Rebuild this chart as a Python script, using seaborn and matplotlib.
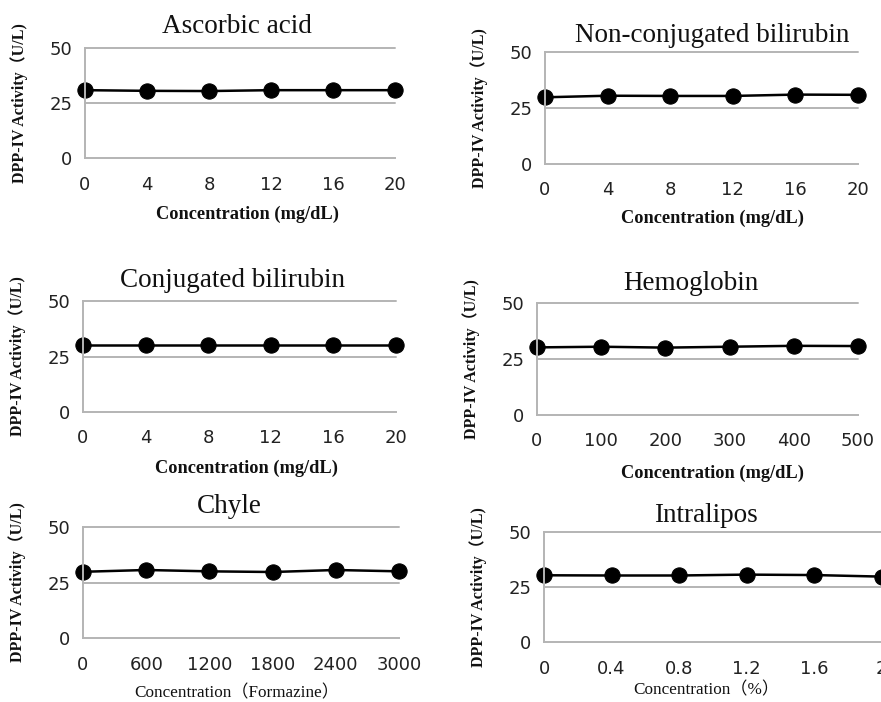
import matplotlib
matplotlib.use("Agg")
import matplotlib.pyplot as plt
import seaborn as sns
import pandas as pd

sns.set_style("white")
plt.rcParams['font.family'] = ['DejaVu Sans']

# ---- data ----
titles = ["Ascorbic acid", "Non-conjugated bilirubin", "Conjugated bilirubin",
          "Hemoglobin", "Chyle", "Intralipos"]
x_ascorbic = [0, 4, 8, 12, 16, 20]
y_ascorbic = [30.8, 30.5, 30.4, 30.8, 30.8, 30.8]
x_nonconj = [0, 4, 8, 12, 16, 20]
y_nonconj = [29.7, 30.4, 30.3, 30.3, 30.9, 30.8]
x_conj = [0, 4, 8, 12, 16, 20]
y_conj = [30.0, 30.0, 30.0, 30.0, 30.0, 30.0]
x_hemo = [0, 100, 200, 300, 400, 500]
y_hemo = [30.1, 30.4, 30.0, 30.4, 30.8, 30.7]
x_chyle = [0, 600, 1200, 1800, 2400, 3000]
y_chyle = [29.8, 30.6, 30.0, 29.7, 30.6, 30.0]
x_intra = [0, 0.4, 0.8, 1.2, 1.6, 2.0]
y_intra = [30.3, 30.2, 30.2, 30.6, 30.4, 29.7]
xtick_labels = [["0", "4", "8", "12", "16", "20"],
                ["0", "4", "8", "12", "16", "20"],
                ["0", "4", "8", "12", "16", "20"],
                ["0", "100", "200", "300", "400", "500"],
                ["0", "600", "1200", "1800", "2400", "3000"],
                ["0", "0.4", "0.8", "1.2", "1.6", "2"]]
yticks = [0, 25, 50]
ylabel = "DPP-IV Activity（U/L)"
xlabels = ["Concentration (mg/dL)", "Concentration (mg/dL)", "Concentration (mg/dL)",
           "Concentration (mg/dL)", "Concentration（Formazine）", "Concentration（%）"]

xs = [x_ascorbic, x_nonconj, x_conj, x_hemo, x_chyle, x_intra]
ys = [y_ascorbic, y_nonconj, y_conj, y_hemo, y_chyle, y_intra]

W, H = 881, 702
fig = plt.figure(figsize=(W / 100, H / 100), dpi=100)

# pixel layout: (x0, x1, ytop, ybottom)
boxes = [(85, 395, 47.7, 158.3), (545, 858, 51.7, 164),
         (83, 396, 301, 412), (537, 858, 302.7, 415),
         (83, 399, 526.7, 638.3), (544, 881.5, 531.7, 642.3)]
title_dx = [-3, 11, -7, -7, -12, -7]
title_gap = [15, 10, 14, 13, 14, 10]
xlabel_gap = [56, 54, 56, 58, 55, 48]
xlabel_dx = [7, 11, 7, 15, -4, -6]

grid_c = "#b4b4b4"
serif = ['Liberation Serif', 'Noto Sans CJK JP']

for i in range(6):
    x0, x1, yt, yb = boxes[i]
    ax = fig.add_axes([x0 / W, (H - yb) / H, (x1 - x0) / W, (yb - yt) / H])
    df = pd.DataFrame({"x": xs[i], "y": ys[i]})
    sns.lineplot(data=df, x="x", y="y", ax=ax, color="black", marker="o",
                 markersize=11, linewidth=1.8, markeredgecolor="black")
    for ln in ax.lines:
        ln.set_clip_on(False)
    ax.set_xlim(xs[i][0], xs[i][-1])
    ax.set_ylim(0, 50)
    ax.set_yticks(yticks)
    ax.set_xticks(xs[i])
    ax.set_xticklabels(xtick_labels[i])
    for y in yticks[1:]:
        ax.axhline(y, color=grid_c, lw=1.4, zorder=0, clip_on=False)
    for s in ["top", "right"]:
        ax.spines[s].set_visible(False)
    for s in ["left", "bottom"]:
        ax.spines[s].set_color(grid_c)
        ax.spines[s].set_linewidth(1.4)
    ax.tick_params(axis="x", direction="inout", length=7, width=1.2, color=grid_c,
                   pad=9, labelsize=13, labelcolor="#222222")
    ax.tick_params(axis="y", direction="out", length=5, width=1.2, color=grid_c,
                   pad=4, labelsize=13, labelcolor="#222222")
    ax.set_xlabel("")
    ax.set_ylabel("")
    w = x1 - x0
    h = yb - yt
    # title
    ax.text(0.5 + title_dx[i] / w, 1 + title_gap[i] / h, titles[i],
            transform=ax.transAxes, ha="center", va="baseline",
            fontsize=19.5, family=serif, color="#111111")
    # y label
    ax.text(-66 / w, 0.5, ylabel, transform=ax.transAxes, rotation=90,
            ha="center", va="center", fontsize=11.5, fontweight="bold",
            family=serif, color="#111111")
    # x label
    if i < 4:
        ax.text(0.5 + xlabel_dx[i] / w, -xlabel_gap[i] / h, xlabels[i],
                transform=ax.transAxes, ha="center", va="center",
                fontsize=13.2, fontweight="bold", family=serif, color="#111111")
    else:
        ax.text(0.5 + xlabel_dx[i] / w, -xlabel_gap[i] / h, xlabels[i],
                transform=ax.transAxes, ha="center", va="center",
                fontsize=12.3, family=serif, color="#111111")

fig.savefig("out.png", dpi=100, facecolor="white")
